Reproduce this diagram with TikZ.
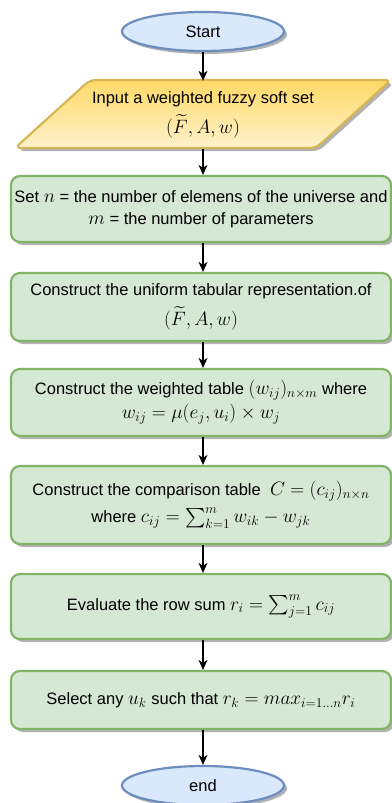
\documentclass[tikz,border=0pt]{standalone}
\usepackage{amsmath}
\usepackage{graphicx}
\usepackage{fontspec}
\setmainfont{Liberation Sans}
\usetikzlibrary{arrows.meta,shapes.geometric,shadows}
\definecolor{termfill}{HTML}{DAE8FC}
\definecolor{termdraw}{HTML}{6C8EBF}
\definecolor{boxfill}{HTML}{D5E8D4}
\definecolor{boxdraw}{HTML}{82B366}
\definecolor{iotop}{HTML}{FFD966}
\definecolor{iobot}{HTML}{FFF2CC}
\definecolor{iodraw}{HTML}{D6B656}
\newcommand{\mth}[1]{\scalebox{1.12}{$#1$}}
\tikzset{
  shadowed/.style={drop shadow={shadow xshift=3pt,shadow yshift=-3pt,fill=black!30,opacity=1}},
  term/.style={ellipse,minimum width=162pt,minimum height=39pt,inner sep=0pt,
    fill=termfill,draw=termdraw,line width=2.2pt,shadowed},
  procbox/.style={rectangle,rounded corners=9pt,minimum width=380pt,inner sep=0pt,
    fill=boxfill,draw=boxdraw,line width=2.2pt,align=center,shadowed},
  arr/.style={-{Stealth[length=10pt,width=9pt,inset=3pt]},line width=1.3pt,black},
}
\begin{document}
\begin{tikzpicture}[x=1pt,y=-1pt,font=\fontsize{16.5}{22}\selectfont]
\useasboundingbox (0,0) rectangle (391,803);
\node[term] (start) at (203,31.5) {Start};
\path[rounded corners=6pt,top color=iotop,bottom color=iobot,draw=iodraw,line width=2.2pt,shadowed]
  (90,80) -- (391,80) -- (316,148) -- (15,148) -- cycle;
\node[minimum height=68pt,inner sep=0pt,align=center] (in) at (203,115)
  {Input a weighted fuzzy soft set\\[6pt] \mth{(\widetilde{F},A,w)}};
\node[procbox,minimum height=66pt] (b1) at (201,209)
  {Set \mth{n} = the number of elemens of the universe and\\ \mth{m} = the number of parameters};
\node[procbox,minimum height=68pt] (b2) at (201,307)
  {Construct the uniform tabular representation.of\\[7pt] \mth{(\widetilde{F},A,w)}};
\node[procbox,minimum height=67pt] (b3) at (201,402.5)
  {Construct the weighted table \mth{(w_{ij})_{n\times m}} where\\[2pt] \mth{w_{ij}=\mu(e_j,u_i)\times w_j}};
\node[procbox,minimum height=78pt] (b4) at (201,505)
  {Construct the comparison table \ \mth{C=(c_{ij})_{n\times n}}\\[5pt] where \mth{c_{ij}=\sum_{k=1}^{m} w_{ik}-w_{jk}}};
\node[procbox,minimum height=65pt] (b5) at (201,606.5)
  {Evaluate the row sum \mth{r_i=\sum_{j=1}^{m} c_{ij}}};
\node[procbox,minimum height=58pt] (b6) at (201,700)
  {Select any \mth{u_k} such that \mth{r_k=max_{i=1\ldots n}r_i}};
\node[term] (end) at (203,785.5) {end};
\draw[arr] (start.south) -- (in.north);
\draw[arr] (in.south) -- (b1.north -| in.south);
\draw[arr] (b1.south -| start.south) -- (b2.north -| start.south);
\draw[arr] (b2.south -| start.south) -- (b3.north -| start.south);
\draw[arr] (b3.south -| start.south) -- (b4.north -| start.south);
\draw[arr] (b4.south -| start.south) -- (b5.north -| start.south);
\draw[arr] (b5.south -| start.south) -- (b6.north -| start.south);
\draw[arr] (b6.south -| start.south) -- (end.north);
\end{tikzpicture}
\end{document}
